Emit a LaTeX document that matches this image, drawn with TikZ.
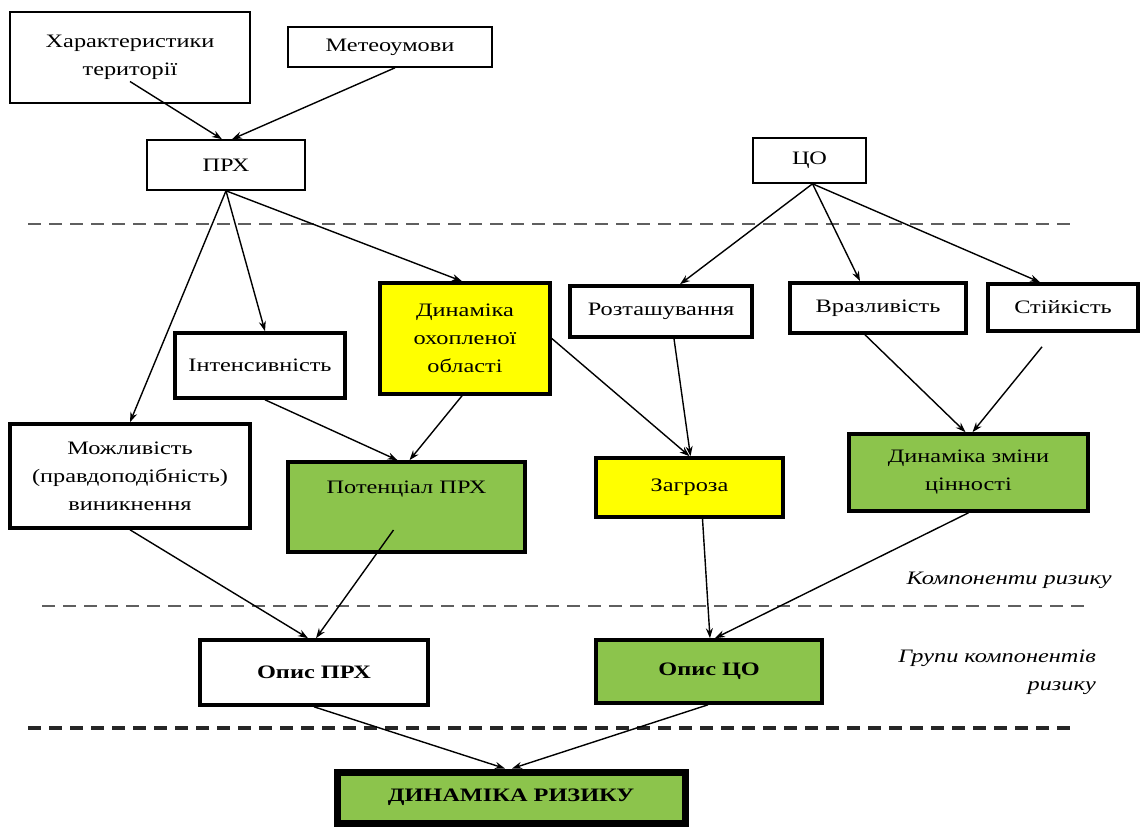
\documentclass[tikz,border=0pt]{standalone}
\usepackage{fontspec}
\setmainfont{Liberation Serif}[FakeStretch=1.28]
\usetikzlibrary{arrows.meta}
\definecolor{boxgreen}{RGB}{140,196,76}
\definecolor{boxyellow}{RGB}{255,255,0}
\definecolor{dashgray}{RGB}{95,95,95}
\tikzset{
  every node/.style={font=\fontsize{19}{28}\selectfont, align=center, inner sep=0pt},
  thinbox/.style={draw, line width=1.6pt, fill=white},
  thickbox/.style={draw, line width=3.6pt, fill=white},
  heavybox/.style={draw, line width=7pt},
  arr/.style={line width=1.4pt, -{Stealth[length=10pt,width=7pt]}},
  divider/.style={dashgray, line width=2.6pt, dash pattern=on 13pt off 8pt},
  note/.style={font=\fontsize{19}{28}\selectfont\itshape, align=right}
}
% box from corner (x1,y1) to corner (x2,y2)
\newcommand\pbox[7]{%
  \node[#6, minimum width={#4pt-#2pt}, minimum height={#5pt-#3pt}]
    (#1) at ({(#2+#4)/2},{(#3+#5)/2}) {#7};}
\begin{document}
\begin{tikzpicture}[x=1pt,y=-1pt]
\useasboundingbox (0,0) rectangle (1143,827);
\fill[white] (0,0) rectangle (1143,827);

% level separators
\draw[divider] (28,224) -- (1070,224);
\draw[divider] (42,606) -- (1090,606);
\draw[divider, black!85, line width=3.4pt] (28,728) -- (1070,728);

% sources
\pbox{xar}{10}{12}{250}{103}{thinbox}{Характеристики\\території}
\pbox{met}{288}{27}{492}{67}{thinbox}{Метеоумови}
\pbox{prx}{147}{140}{305}{190}{thinbox}{ПРХ}
\pbox{co}{753}{138}{866}{183}{thinbox}{ЦО}

% factors
\pbox{dyn}{380}{283}{550}{394}{thickbox, fill=boxyellow}{Динаміка\\охопленої\\області}
\pbox{roz}{570}{286}{752}{337}{thickbox}{Розташування}
\pbox{vra}{790}{283}{966}{333}{thickbox}{Вразливість}
\pbox{sti}{988}{284}{1138}{331}{thickbox}{Стійкість}
\pbox{int}{175}{333}{345}{398}{thickbox}{Інтенсивність}

% risk components
\pbox{mozh}{10}{424}{250}{528}{thickbox}{Можливість\\(правдоподібність)\\виникнення}
\pbox{pot}{288}{462}{525}{552}{thickbox, fill=boxgreen}{}
\node[anchor=north] (pottext) at ([yshift=-21pt]pot.north) {Потенціал ПРХ};
\pbox{zag}{596}{458}{783}{517}{thickbox, fill=boxyellow}{Загроза}
\pbox{zm}{849}{434}{1088}{511}{thickbox, fill=boxgreen}{Динаміка зміни\\цінності}

% groups and result
\pbox{opr}{200}{640}{428}{705}{thickbox}{\bfseries Опис ПРХ}
\pbox{oco}{596}{640}{822}{703}{thickbox, fill=boxgreen}{\bfseries Опис ЦО}
\pbox{rdyn}{337}{772}{685}{823}{heavybox, fill=boxgreen}{\bfseries ДИНАМІКА РИЗИКУ}

% level captions
\node[note, anchor=east] (lvl1) at (1112,580) {Компоненти ризику};
\node[note, anchor=north east] (lvl2) at (1096,650) {Групи компонентів\\ризику};

% connectors
\draw[arr] ([yshift=-24pt]xar.center) -- ([xshift=-4pt]prx.north);
\draw[arr] ([xshift=5pt]met.south) -- ([xshift=6pt]prx.north);
\draw[arr] (prx.south) -- (mozh.north);
\draw[arr] (prx.south) -- ([xshift=5pt]int.north);
\draw[arr] (prx.south) -- ([xshift=-3pt]dyn.north);
\draw[arr] ([xshift=3pt]co.south) -- ([xshift=19pt]roz.north);
\draw[arr] ([xshift=3pt]co.south) -- ([xshift=-18pt]vra.north);
\draw[arr] ([xshift=3pt]co.south) -- ([xshift=-23pt]sti.north);
\draw[arr] ([xshift=5pt]int.south) -- ([xshift=-9pt]pot.north);
\draw[arr] ([xshift=-3pt]dyn.south) -- ([xshift=3pt]pot.north);
\draw[arr] (dyn.east) -- (zag.north);
\draw[arr] ([xshift=13pt]roz.south) -- ([xshift=1pt]zag.north);
\draw[arr] ([xshift=-13pt]vra.south) -- ([xshift=-3pt]zm.north);
\draw[arr] ([xshift=-21pt,yshift=-14pt]sti.south) -- ([xshift=4pt]zm.north);
\draw[arr] (mozh.south) -- ([xshift=-6pt]opr.north);
\draw[arr] ([xshift=-13pt,yshift=-23pt]pot.center) -- ([xshift=2pt]opr.north);
\draw[arr] ([xshift=13pt]zag.south) -- ([xshift=1pt]oco.north);
\draw[arr] (zm.south) -- ([xshift=6pt]oco.north);
\draw[arr] (opr.south) -- ([xshift=-6pt]rdyn.north);
\draw[arr] ([xshift=-1pt]oco.south) -- ([xshift=1pt]rdyn.north);
\end{tikzpicture}
\end{document}
